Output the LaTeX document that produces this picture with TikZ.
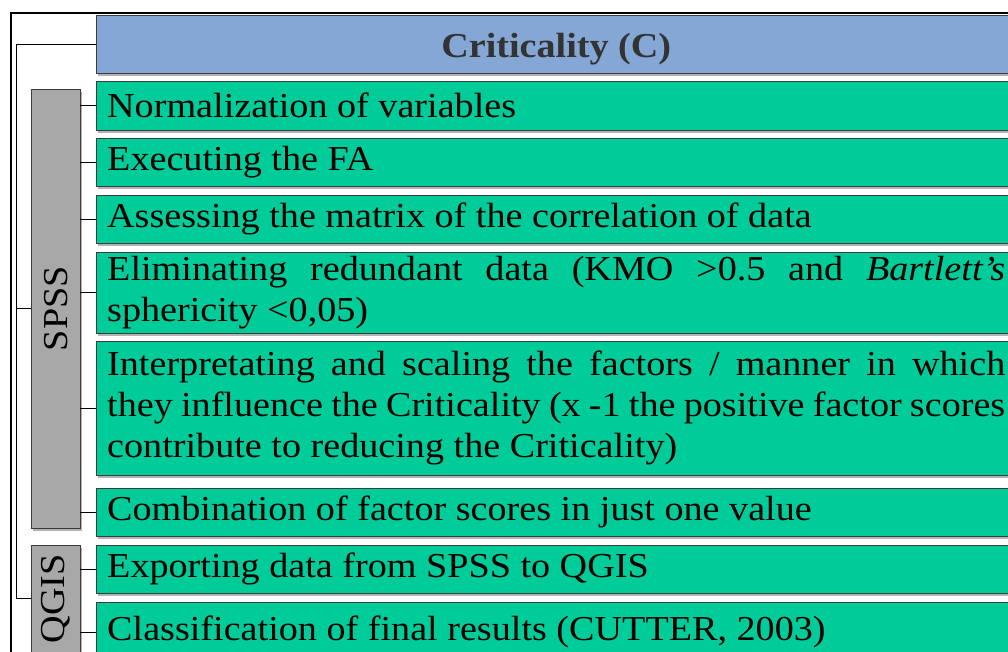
\documentclass[tikz,border=0pt]{standalone}
\usepackage{fontspec}
\setmainfont{Liberation Serif}[FakeStretch=1.09]
\usetikzlibrary{positioning,shadows}
\definecolor{StepGreen}{RGB}{0,204,153}
\definecolor{TitleBlue}{RGB}{132,167,214}
\definecolor{ToolGray}{RGB}{168,168,168}
\definecolor{EdgeGray}{RGB}{60,60,60}

\tikzset{
  boxshadow/.style={drop shadow={shadow xshift=1.5pt,shadow yshift=-2.5pt,opacity=0.3,fill=black}},
  stepbox/.style={draw=EdgeGray,fill=StepGreen,anchor=north west,minimum width=920,
    text width=898,inner xsep=11,inner ysep=0,align=justify,
    font=\fontsize{35}{41}\selectfont,boxshadow},
  titlebox/.style={draw=EdgeGray,fill=TitleBlue,anchor=north west,minimum width=920,
    minimum height=58,inner ysep=0,text height=26,text depth=0,
    text=black!80,font=\fontsize{35}{41}\selectfont\bfseries,boxshadow},
  toolbox/.style={draw=EdgeGray,fill=ToolGray,anchor=north west,minimum width=49,boxshadow},
  toollabel/.style={rotate=90,font=\fontsize{35}{41}\selectfont},
  tree/.style={draw=black,line width=1pt},
}

\begin{document}
\begin{tikzpicture}[x=1pt,y=-1pt]
  \useasboundingbox (0,0) rectangle (1008,651);
  \clip (0,0) rectangle (1008,651);
  \draw[line width=1.3pt] (11,13) rectangle (1040,680);

  % header and steps
  \node[titlebox] (title) at (96,15) {Criticality (C)};
  \node[stepbox,minimum height=49] (norm) at (96,81) {Normalization of variables};
  \node[stepbox,minimum height=48] (exec) at (96,138) {Executing the FA};
  \node[stepbox,minimum height=48] (assess) at (96,195) {Assessing the matrix of the correlation of data};
  \node[stepbox,minimum height=81] (elim) at (96,252)
    {Eliminating redundant data (KMO >0.5 and \textit{Bartlett’s}\linebreak sphericity <0,05)};
  \node[stepbox,minimum height=134] (interp) at (96,341)
    {Interpretating and scaling the factors / manner in which\linebreak they influence the Criticality (x -1 the positive factor scores\linebreak contribute to reducing the Criticality)};
  \node[stepbox,minimum height=48] (comb) at (96,488) {Combination of factor scores in just one value};
  \node[stepbox,minimum height=48] (export) at (96,545) {Exporting data from SPSS to QGIS};
  \node[stepbox,minimum height=60] (classif) at (96,602) {Classification of final results (CUTTER, 2003)};

  % software boxes
  \node[toolbox,minimum height=439] (spss) at (31,89) {};
  \node[toollabel] (spsslabel) at (spss.center) {SPSS};
  \node[toolbox,minimum height=107] (qgis) at (31,545) {};
  \node[toollabel] (qgislabel) at (qgis.center) {QGIS};

  % connectors
  \coordinate (trunk) at (16,45);
  \draw[tree] (title.west) -- (title.west -| trunk) |- (qgis.west);
  \draw[tree] (spss.west) -- (spss.west -| trunk);
  \foreach \s in {norm,exec,assess,elim,interp,comb}
    \draw[tree] (spss.east |- \s.west) -- (\s.west);
  \foreach \s in {export,classif}
    \draw[tree] (qgis.east |- \s.west) -- (\s.west);
\end{tikzpicture}
\end{document}
